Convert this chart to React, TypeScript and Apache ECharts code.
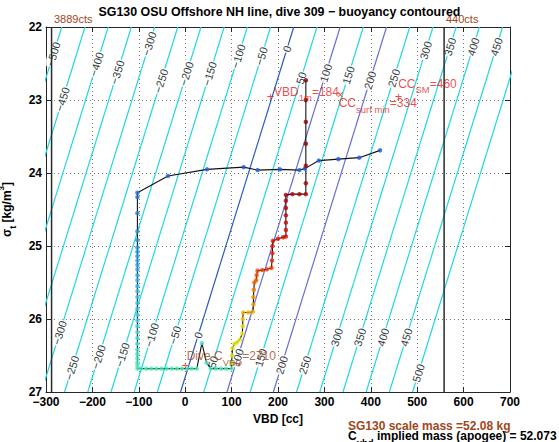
import React, { useEffect, useRef } from "react";
import * as echarts from "echarts";

const FONT = "'Liberation Sans', Arial, Helvetica, sans-serif";
const TITLE = "SG130 OSU Offshore NH line, dive 309 \u2212 buoyancy contoured";
const X_LABEL = "VBD [cc]";
const X_MIN = -300, X_MAX = 700, X_STEP = 100;
const Y_MIN = 22, Y_MAX = 27, Y_STEP = 1;

// buoyancy contours (g), straight lines
const CONTOUR_LEVELS = [-500, -450, -400, -350, -300, -250, -200, -150, -100, -50, 0, 50, 100, 150, 200, 250, 300, 350, 400, 450, 500];
const HIGHLIGHT_LEVELS = [100, 200];
const ZERO_LEVEL = 0;
const ZERO_CONTOUR_VBD_AT_BOTTOM = -10; // cc at sigma = 27
const VBD_PER_SIGMA = 48.8; // cc per kg/m3
const VBD_PER_GRAM = 1.0; // cc per g

// contour labels: [level, sigma position]
const TOP_LABELS: [number, number][] = [
  [-500, 22.37], [-450, 22.99], [-400, 22.51], [-350, 22.62], [-300, 22.23], [-250, 22.74],
  [-200, 22.64], [-150, 22.64], [-100, 22.4], [-50, 22.4], [0, 22.3], [50, 22.7], [100, 22.63],
  [150, 22.66], [200, 22.73], [250, 22.7], [300, 22.32], [350, 22.27], [400, 22.27], [450, 22.27],
];
const BOTTOM_LABELS: [number, number][] = [
  [-300, 26.19], [-250, 26.67], [-200, 26.52], [-150, 26.49], [-100, 26.22], [-50, 26.22], [0, 26.22],
  [50, 26.59], [100, 26.53], [150, 26.53], [200, 26.63], [250, 26.63], [300, 26.25], [350, 26.25],
  [400, 26.25], [450, 26.25], [500, 26.74],
];

// VBD limit lines
const LIMIT_VBD = [-288, 558];
const LIMIT_LABELS = ["3889cts", "440cts"];

// dive trajectory
const DESCENT_UPPER: [number, number][] = [
  [420, 23.69], [375, 23.79], [330, 23.81], [288, 23.83], [258, 23.94], [246, 23.96], [204, 23.95],
  [156, 23.96], [126, 23.92], [47, 23.95], [-37, 24.04], [-103, 24.27],
];
const DESCENT_COLUMN_VBD = -103;
const DESCENT_COLUMN_SIGMA = [
  24.33, 24.55, 24.8, 24.92, 25.02, 25.08, 25.14, 25.2, 25.26, 25.32, 25.4, 25.47, 25.55, 25.62,
  25.7, 25.78, 25.86, 25.94, 26.02, 26.1, 26.18, 26.26, 26.34, 26.42, 26.48, 26.54, 26.6, 26.64,
];
const DESCENT_BOTTOM: [number, number][] = [
  [-103, 26.68], [-95, 26.68], [-84, 26.68], [-73, 26.68], [-62, 26.68], [-51, 26.68], [-40, 26.68],
  [-29, 26.68], [-18, 26.68], [-7, 26.68], [4, 26.68], [14, 26.68], [25, 26.68], [36, 26.33],
  [46, 26.6], [55, 26.68], [66, 26.68], [77, 26.68], [88, 26.68], [100, 26.68],
];
const ASCENT: [number, number][] = [
  [100, 26.6], [101, 26.5], [102, 26.4], [106, 26.34], [112, 26.32], [118, 26.28], [123, 26.2],
  [124, 26.1], [124, 26.0], [125, 25.91], [136, 25.91], [146, 25.9], [147, 25.8], [147, 25.7],
  [148, 25.6], [149, 25.5], [153, 25.47], [154, 25.4], [156, 25.34], [166, 25.33], [176, 25.32],
  [186, 25.3], [187, 25.2], [188, 25.1], [188, 25.0], [189, 24.93], [200, 24.9], [211, 24.88],
  [217, 24.87], [217, 24.78], [217, 24.68], [217, 24.58], [217, 24.48], [217, 24.38], [217, 24.3],
  [231, 24.29], [246, 24.29], [260, 24.29], [260, 24.14], [260, 23.9], [260, 23.6], [260, 23.3],
  [260, 23.0], [260, 22.73],
];

// annotations
const VBD_1M = 184, VBD_1M_SIGMA = 22.95;
const CC_SURF_MIN = 334, CC_SURF_MIN_SIGMA = 22.93;
const CC_SM = 460, CC_SM_SIGMA = 22.95;
const DIVE_C_VBD = 2710, DIVE_C_POINT: [number, number] = [0, 26.64];
const SCALE_MASS = "52.08";
const IMPLIED_MASS = "52.073";

const RED = "#e41e1e";
const BROWN = "#a2461a";
const DESCENT_COLORS = ["#1f4fe8", "#1f6ae4", "#2090e6", "#30b0ee", "#40d4ec", "#48f0b8"];
const ASCENT_COLORS = ["#800000", "#8c0000", "#980000", "#b00000", "#d00808", "#f02800", "#ff8c00", "#f5e600", "#a8f040"];

function contourVBD(level: number, sigma: number) {
  return ZERO_CONTOUR_VBD_AT_BOTTOM + VBD_PER_GRAM * level + VBD_PER_SIGMA * (Y_MAX - sigma);
}
const fmtNum = (v: number) => (v < 0 ? "\u2212" + Math.abs(v) : String(v));

function richSet(color: string, size = 12, weight: any = "normal") {
  return {
    a: { fontSize: size, color, fontFamily: FONT, fontWeight: weight, lineHeight: 14, verticalAlign: "top" },
    s: { fontSize: 9.5, color, fontFamily: FONT, fontWeight: weight, lineHeight: 10, verticalAlign: "top", padding: [7, 0, 0, 0] },
  };
}

function buildOption() {
  const series: any[] = [];
  CONTOUR_LEVELS.forEach((level) => {
    const color = level === ZERO_LEVEL ? "#2a5ac4" : HIGHLIGHT_LEVELS.includes(level) ? "#6670d6" : "#22d8e0";
    series.push({
      type: "line",
      silent: true,
      z: 1,
      symbol: "none",
      data: [[contourVBD(level, Y_MIN), Y_MIN], [contourVBD(level, Y_MAX), Y_MAX]],
      lineStyle: { color, width: 1.2 },
    });
  });
  series.push({
    type: "scatter",
    silent: true,
    z: 2,
    symbolSize: 1,
    itemStyle: { color: "transparent" },
    data: [...TOP_LABELS, ...BOTTOM_LABELS].map(([lv, s]) => [contourVBD(lv, s), s, lv]),
    label: {
      show: true,
      position: "inside",
      rotate: 73,
      formatter: (p: any) => fmtNum(p.value[2]),
      fontSize: 11,
      color: "#000",
      fontFamily: FONT,
      backgroundColor: "#fff",
      padding: [0, 1],
    },
  });
  LIMIT_VBD.forEach((v) => {
    series.push({
      type: "line",
      silent: true,
      z: 3,
      symbol: "none",
      data: [[v, Y_MAX], [v, Y_MIN]],
      lineStyle: { color: "#2a2a2a", width: 1.5 },
    });
  });

  const column: [number, number][] = DESCENT_COLUMN_SIGMA.map((s) => [DESCENT_COLUMN_VBD, s]);
  const descent = [...DESCENT_UPPER, ...column, ...DESCENT_BOTTOM];
  const path = [...descent, ...ASCENT];
  series.push({
    type: "line",
    silent: true,
    z: 4,
    symbol: "none",
    data: path,
    lineStyle: { color: "#111", width: 1.1 },
  });
  const descIdx = series.length;
  series.push({ type: "scatter", silent: true, z: 5, symbolSize: 4.5, data: descent });
  const ascIdx = series.length;
  series.push({ type: "scatter", silent: true, z: 5, symbolSize: 4.5, data: ASCENT });

  // marker glyphs
  series.push({
    type: "scatter",
    silent: true,
    z: 6,
    symbolSize: 1,
    itemStyle: { color: "transparent" },
    data: [
      [VBD_1M, VBD_1M_SIGMA, "+"],
      [CC_SURF_MIN, CC_SURF_MIN_SIGMA, "\u00d7"],
      [CC_SM, CC_SM_SIGMA, "+"],
      [DIVE_C_POINT[0], DIVE_C_POINT[1], "+"],
    ],
    label: {
      show: true,
      position: "inside",
      formatter: (p: any) => p.value[2],
      fontSize: 13,
      color: RED,
      fontFamily: FONT,
    },
  });
  // annotation texts
  const redRich = richSet(RED);
  const brownRich = richSet(BROWN);
  const ann = (x: number, y: number, text: string, pos: number[], rich: any) => ({
    value: [x, y],
    label: { show: true, position: pos, align: "left", verticalAlign: "top", formatter: text, rich },
  });
  series.push({
    type: "scatter",
    silent: true,
    z: 6,
    symbolSize: 1,
    itemStyle: { color: "transparent" },
    data: [
      ann(VBD_1M, VBD_1M_SIGMA, `{a|VBD}{s|1m}{a|=${VBD_1M}}`, [4, -10], redRich),
      ann(CC_SURF_MIN, CC_SURF_MIN_SIGMA, `{a|CC}{s|surf min}{a|=${CC_SURF_MIN}}`, [-1, 3], redRich),
      ann(CC_SM, CC_SM_SIGMA, `{a|CC}{s|SM}{a|=${CC_SM}}`, [0, -18], redRich),
      ann(DIVE_C_POINT[0], DIVE_C_POINT[1], `{a|Dive C}{s|VBD}{a|=${DIVE_C_VBD}}`, [2, -15], brownRich),
    ],
  });

  const axisLine = { show: true, onZero: false, lineStyle: { color: "#262626", width: 1 } };
  const axisTick = { show: true, inside: true, length: 5, lineStyle: { color: "#262626" } };
  const splitLine = { show: true, lineStyle: { color: "#777", type: [1, 3], width: 1 } };
  const tickFont = { color: "#000", fontWeight: "bold", fontSize: 12, fontFamily: FONT };

  return {
    animation: false,
    backgroundColor: "#fff",
    title: {
      text: TITLE,
      left: "center",
      top: 6,
      padding: 0,
      textStyle: { fontSize: 12.4, fontWeight: "bold", color: "#000", fontFamily: FONT },
    },
    grid: { left: 46, right: 49, top: 27, bottom: 50, containLabel: false, outerBoundsMode: "none" },
    xAxis: [
      {
        type: "value", min: X_MIN, max: X_MAX, interval: X_STEP, position: "bottom",
        axisLine, axisTick, splitLine,
        axisLabel: { ...tickFont, margin: 4, formatter: (v: number) => fmtNum(v) },
        name: X_LABEL, nameLocation: "middle", nameGap: 16,
        nameTextStyle: { ...tickFont },
      },
      {
        type: "value", min: X_MIN, max: X_MAX, interval: X_STEP, position: "top",
        axisLine, axisTick, splitLine: { show: false }, axisLabel: { show: false },
      },
    ],
    yAxis: [
      {
        type: "value", min: Y_MIN, max: Y_MAX, interval: Y_STEP, inverse: true, position: "left",
        axisLine, axisTick, splitLine,
        axisLabel: { ...tickFont, margin: 4 },
        name: "{a|\u03c3}{s|t}{a| [kg/m}{p|3}{a|]}",
        nameLocation: "middle", nameGap: 13, nameRotate: 90,
        nameTextStyle: {
          rich: {
            a: { ...tickFont, lineHeight: 14, verticalAlign: "top", padding: [3, 0, 0, 0] },
            s: { ...tickFont, fontSize: 9, lineHeight: 10, verticalAlign: "top", padding: [11, 0, 0, 0] },
            p: { ...tickFont, fontSize: 8, lineHeight: 9, verticalAlign: "top" },
          },
        },
      },
      {
        type: "value", min: Y_MIN, max: Y_MAX, interval: Y_STEP, inverse: true, position: "right",
        axisLine, axisTick, splitLine: { show: false }, axisLabel: { show: false },
      },
    ],
    visualMap: [
      { type: "continuous", show: false, seriesIndex: descIdx, dimension: 1, min: 23.6, max: 26.7, inRange: { color: DESCENT_COLORS } },
      { type: "continuous", show: false, seriesIndex: ascIdx, dimension: 1, min: 22.7, max: 26.7, inRange: { color: ASCENT_COLORS } },
    ],
    graphic: [
      {
        type: "text", left: 348, top: 420,
        style: { text: `SG130 scale mass =${SCALE_MASS} kg`, fill: BROWN, fontSize: 12, fontWeight: "bold", fontFamily: FONT },
      },
      {
        type: "text", left: 348, top: 430,
        style: {
          text: `{a|C}{s|vbd}{a| implied mass (apogee) = ${IMPLIED_MASS} kg}`,
          rich: richSet(BROWN, 12, "bold"),
        },
      },
    ],
    series,
  };
}

export default function App() {
  const ref = useRef<HTMLDivElement>(null);
  useEffect(() => {
    const chart = echarts.init(ref.current!, null, { renderer: "svg" });
    const option: any = buildOption();
    chart.setOption(option);
    const limitTexts = LIMIT_VBD.map((v, i) => {
      const [px, py] = chart.convertToPixel({ xAxisIndex: 0, yAxisIndex: 0 }, [v, Y_MIN]) as number[];
      return {
        type: "text",
        left: Math.round(px + 2),
        top: Math.round(py - 14),
        style: { text: LIMIT_LABELS[i], fill: BROWN, fontSize: 11, fontFamily: FONT },
      };
    });
    chart.setOption({ graphic: [...option.graphic, ...limitTexts] });
    return () => chart.dispose();
  }, []);
  return <div ref={ref} style={{ position: "absolute", left: 0, top: 0, width: 559, height: 442 }} />;
}
